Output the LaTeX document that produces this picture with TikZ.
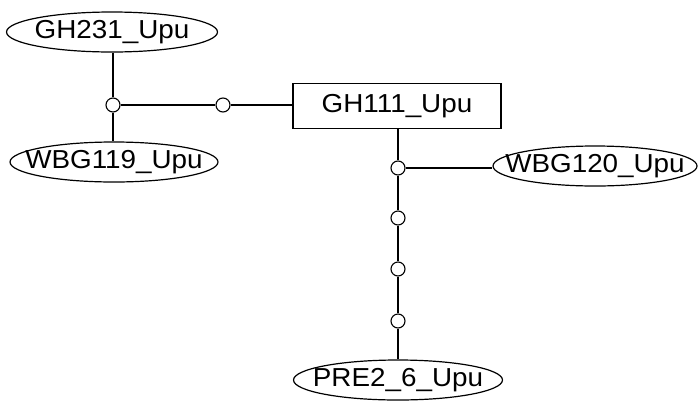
\documentclass[tikz,border=0pt]{standalone}
\usepackage{fontspec}
\setmainfont[FakeStretch=1.07]{Liberation Sans}
\usetikzlibrary{shapes.geometric}
\begin{document}
\begin{tikzpicture}[x=1pt,y=-1pt,
  lbl/.style={font=\fontsize{26}{29}\selectfont, inner sep=0pt},
  oval/.style={draw, ellipse, line width=1.2pt, minimum width=#1, minimum height=40pt, inner sep=0pt},
  box/.style={lbl, draw, rectangle, line width=1.2pt, minimum width=208pt, minimum height=45pt},
  joint/.style={draw, circle, fill=white, line width=1.1pt, minimum size=14pt, inner sep=0pt},
  link/.style={line width=1.3pt}]
  \useasboundingbox (0,0) rectangle (698,402);

  % terminal nodes: fixed-size ovals with their names set on top
  \node[oval=211pt] (gh231)  at (112,32)  {};
  \node[lbl] (gh231txt) at (gh231) {GH231\_Upu};
  \node[oval=208pt] (wbg119) at (114,162) {};
  \node[lbl] (wbg119txt) at (wbg119) {WBG119\_Upu};
  \node[oval=204pt] (wbg120) at (595,166) {};
  \node[lbl] (wbg120txt) at (wbg120) {WBG120\_Upu};
  \node[oval=209pt] (pre2)   at (398,380) {};
  \node[lbl] (pre2txt) at (pre2) {PRE2\_6\_Upu};
  \node[box] (gh111) at (397,106) {GH111\_Upu};

  % junction points
  \node[joint] (j1) at (113,105) {};
  \node[joint] (j2) at (223,105) {};
  \node[joint] (j3) at (398,168) {};
  \node[joint] (j4) at (398,218) {};
  \node[joint] (j5) at (398,269) {};
  \node[joint] (j6) at (398,321) {};

  % connectors
  \draw[link] (gh231.south -| j1) -- (j1);
  \draw[link] (j1) -- (wbg119.north -| j1);
  \draw[link] (j1) -- (j2);
  \draw[link] (j2) -- (gh111.west |- j2);
  \draw[link] (gh111.south -| j3) -- (j3);
  \draw[link] (j3) -- (wbg120.west |- j3);
  \draw[link] (j3) -- (j4);
  \draw[link] (j4) -- (j5);
  \draw[link] (j5) -- (j6);
  \draw[link] (j6) -- (pre2);
\end{tikzpicture}
\end{document}
